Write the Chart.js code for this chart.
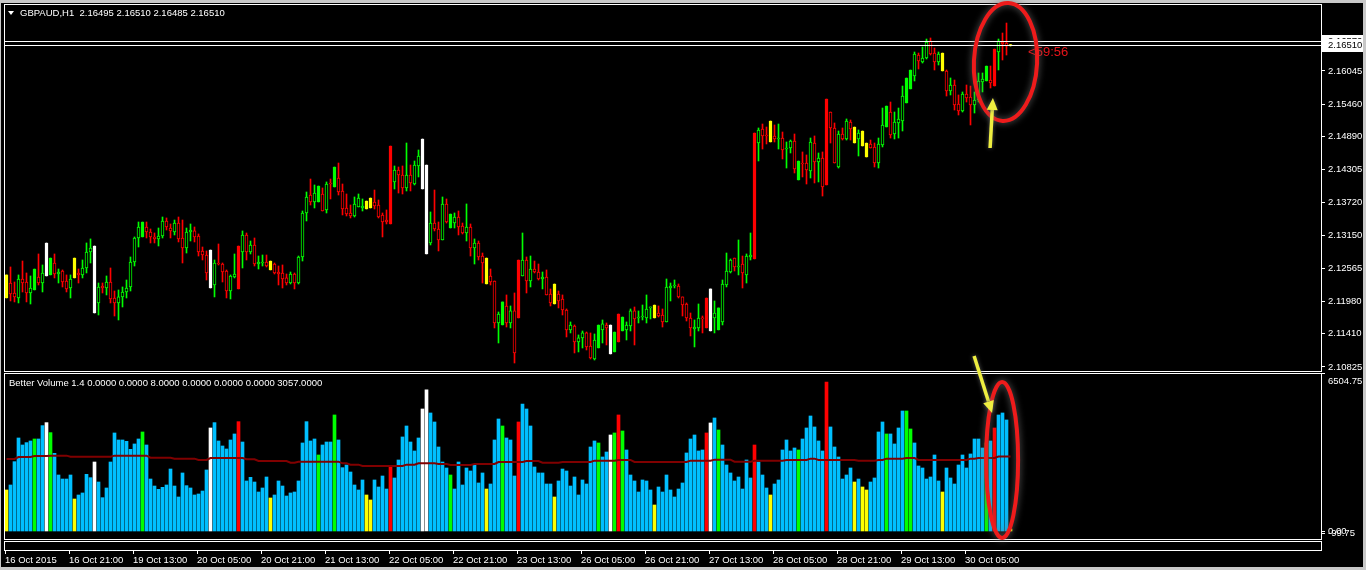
<!DOCTYPE html>
<html><head><meta charset="utf-8">
<script src="https://cdn.jsdelivr.net/npm/chart.js@4.4.1/dist/chart.umd.min.js"></script>
<style>
html,body{margin:0;padding:0;background:#c8c8c8;width:1366px;height:570px;overflow:hidden;}
#wrap{position:relative;width:1366px;height:570px;}
canvas{position:absolute;left:0;top:0;}
.t{position:absolute;color:#fff;font-family:"Liberation Sans",Arial,sans-serif;font-size:9.5px;white-space:pre;line-height:11px;}
</style></head>
<body><div id="wrap"><canvas id="c" width="1366" height="570"></canvas>
<div id="tri" style="position:absolute;left:8px;top:11px;width:0;height:0;border-left:3.5px solid transparent;border-right:3.5px solid transparent;border-top:4px solid #fff"></div>
<div class="t" style="left:20px;top:7px">GBPAUD,H1  2.16495 2.16510 2.16485 2.16510</div>
<div class="t" style="left:9px;top:377px">Better Volume 1.4 0.0000 0.0000 8.0000 0.0000 0.0000 0.0000 3057.0000</div>
</div>
<script>
// ---------------- DATA ----------------
const opens = [
2.12042,2.12306,2.12130,2.12042,2.12377,2.12324,2.12130,2.12183,2.12412,2.12306,
2.12430,2.12448,2.12659,2.12465,2.12518,2.12342,2.12218,2.12395,2.12483,2.12448,
2.12571,2.12853,2.12959,2.11954,2.12253,2.12218,2.12324,2.12042,2.11954,2.12060,
2.12148,2.12236,2.12677,2.13100,2.13118,2.13294,2.13206,2.13118,2.13083,2.13135,
2.13400,2.13276,2.13206,2.13364,2.13100,2.12924,2.13206,2.13224,2.13135,2.12871,
2.12800,2.12888,2.12271,2.12659,2.12641,2.12518,2.12165,2.12412,2.12959,2.12853,
2.13153,2.12853,2.12977,2.12641,2.12659,2.12677,2.12694,2.12641,2.12500,2.12483,
2.12395,2.12306,2.12465,2.12306,2.12765,2.13541,2.13858,2.13735,2.13735,2.13876,
2.13594,2.14070,2.13999,2.14158,2.13929,2.13629,2.13541,2.13488,2.13647,2.13629,
2.13611,2.13629,2.13735,2.13682,2.13506,2.13417,2.13347,2.14088,2.14299,2.14211,
2.13982,2.14211,2.14052,2.14370,2.14846,2.14387,2.13012,2.13364,2.13259,2.13065,
2.13700,2.13276,2.13364,2.13470,2.13311,2.13188,2.13294,2.12924,2.13012,2.12782,
2.12747,2.12430,2.12342,2.11601,2.11566,2.11901,2.11601,2.11813,2.11689,2.12430,
2.12712,2.12342,2.12553,2.12500,2.12377,2.12412,2.12112,2.11936,2.12112,2.12024,
2.11830,2.11478,2.11548,2.11266,2.11337,2.11425,2.11195,2.10966,2.11160,2.11478,
2.11566,2.11566,2.11090,2.11760,2.11460,2.11478,2.11548,2.11813,2.11689,2.11707,
2.11689,2.11866,2.11689,2.11777,2.11742,2.11619,2.12218,2.12253,2.12253,2.12060,
2.11936,2.11689,2.11495,2.11513,2.11689,2.12042,2.11460,2.11689,2.11478,2.11619,
2.12271,2.12500,2.12747,2.12589,2.12641,2.12448,2.12765,2.12730,2.14775,2.15022,
2.14916,2.14793,2.14899,2.14846,2.14863,2.14669,2.14687,2.14811,2.14123,2.14422,
2.14422,2.14281,2.14775,2.14440,2.14511,2.14035,2.15322,2.15040,2.14352,2.14934,
2.14846,2.15146,2.15057,2.14846,2.14987,2.14775,2.14758,2.14705,2.14422,2.14740,
2.15057,2.15322,2.14934,2.15128,2.15163,2.15481,2.15728,2.15957,2.16327,2.16204,
2.16274,2.16574,2.16362,2.16204,2.16362,2.16045,2.15692,2.15798,2.15463,2.15340,
2.15639,2.15586,2.15446,2.15534,2.15851,2.15869,2.15886,2.15780,2.16380,2.16556,
2.16539,2.16495];
const highs = [
2.12448,2.12589,2.12324,2.12448,2.12694,2.12483,2.12430,2.12553,2.12818,2.12624,
2.13012,2.12747,2.12818,2.12553,2.12536,2.12448,2.12448,2.12747,2.12553,2.12712,
2.13012,2.13083,2.12959,2.12306,2.12306,2.12430,2.12571,2.12165,2.12183,2.12236,
2.12359,2.12765,2.13118,2.13382,2.13382,2.13382,2.13259,2.13188,2.13276,2.13470,
2.13453,2.13347,2.13417,2.13470,2.13417,2.13276,2.13347,2.13294,2.13171,2.12941,
2.12871,2.12888,2.12712,2.12994,2.12659,2.12536,2.12448,2.12818,2.12959,2.13224,
2.13188,2.13047,2.13100,2.12782,2.12800,2.12800,2.12694,2.12659,2.12606,2.12624,
2.12465,2.12500,2.12483,2.12782,2.13576,2.13911,2.14140,2.14035,2.14017,2.13982,
2.14088,2.14140,2.14352,2.14422,2.14052,2.13876,2.13682,2.13823,2.13876,2.13788,
2.13752,2.13805,2.13946,2.13770,2.13541,2.13594,2.14722,2.14370,2.14352,2.14370,
2.14775,2.14387,2.14458,2.14652,2.14846,2.14387,2.13559,2.13946,2.13382,2.13823,
2.13788,2.13523,2.13541,2.13576,2.13364,2.13700,2.13347,2.13083,2.13047,2.12835,
2.12747,2.12553,2.12342,2.11795,2.11972,2.12095,2.11901,2.12130,2.12712,2.13188,
2.12765,2.12782,2.12694,2.12641,2.12500,2.12536,2.12201,2.12289,2.12165,2.12095,
2.11848,2.11619,2.11566,2.11390,2.11460,2.11442,2.11425,2.11407,2.11566,2.11654,
2.11601,2.11566,2.11442,2.11760,2.11707,2.11619,2.11848,2.11883,2.11813,2.11918,
2.12095,2.11883,2.11918,2.11901,2.11848,2.12377,2.12306,2.12359,2.12289,2.12060,
2.11954,2.11777,2.11654,2.11936,2.11724,2.12042,2.12201,2.11989,2.11866,2.12359,
2.12835,2.12730,2.12747,2.13065,2.12782,2.12818,2.13188,2.14952,2.15040,2.15110,
2.15057,2.15163,2.15093,2.15110,2.14969,2.14793,2.14828,2.14934,2.14458,2.14617,
2.14564,2.14863,2.14899,2.14599,2.14617,2.15551,2.15322,2.15128,2.14987,2.15040,
2.15199,2.15181,2.15057,2.15005,2.14987,2.14775,2.14828,2.14775,2.14863,2.15392,
2.15428,2.15498,2.15322,2.15392,2.15780,2.15922,2.16063,2.16380,2.16362,2.16468,
2.16609,2.16627,2.16450,2.16380,2.16362,2.16063,2.15922,2.15886,2.15622,2.15675,
2.15798,2.15780,2.15675,2.16010,2.16010,2.16133,2.16133,2.16433,2.16609,2.16715,
2.16891,2.16510];
const lows = [
2.12042,2.11989,2.11972,2.11954,2.12148,2.11972,2.11936,2.12183,2.12271,2.12148,
2.12430,2.12448,2.12395,2.12306,2.12236,2.12148,2.12042,2.12395,2.12306,2.12395,
2.12483,2.12659,2.11777,2.11742,2.12130,2.12095,2.11954,2.11724,2.11654,2.11883,
2.12042,2.12165,2.12606,2.12941,2.13118,2.13100,2.13012,2.13012,2.12959,2.13100,
2.13241,2.13100,2.13153,2.13030,2.12659,2.12835,2.13047,2.13030,2.12782,2.12712,
2.12359,2.12218,2.12060,2.12624,2.12324,2.12042,2.12024,2.12395,2.12201,2.12571,
2.12712,2.12818,2.12606,2.12553,2.12606,2.12589,2.12536,2.12465,2.12271,2.12218,
2.12271,2.12289,2.12201,2.12289,2.12694,2.13400,2.13682,2.13629,2.13735,2.13576,
2.13541,2.13788,2.13999,2.13858,2.13506,2.13488,2.13453,2.13470,2.13647,2.13576,
2.13611,2.13629,2.13611,2.13453,2.13118,2.13347,2.13347,2.13964,2.13893,2.13876,
2.13929,2.13929,2.14035,2.14176,2.13964,2.12818,2.12977,2.13224,2.12871,2.13065,
2.13364,2.13276,2.13276,2.13153,2.13171,2.13047,2.12782,2.12641,2.12712,2.12306,
2.12289,2.12271,2.11513,2.11248,2.11566,2.11530,2.11513,2.10895,2.11689,2.12430,
2.12130,2.12236,2.12483,2.12359,2.12201,2.12095,2.11901,2.11936,2.11866,2.11742,
2.11354,2.11425,2.11072,2.11090,2.11160,2.11125,2.10966,2.10948,2.11160,2.11248,
2.11213,2.11054,2.11090,2.11266,2.11460,2.11301,2.11460,2.11213,2.11601,2.11654,
2.11601,2.11672,2.11689,2.11707,2.11530,2.11619,2.11989,2.12218,2.12042,2.11724,
2.11636,2.11372,2.11178,2.11460,2.11425,2.11513,2.11460,2.11425,2.11478,2.11566,
2.12236,2.12483,2.12518,2.12448,2.12218,2.12306,2.12712,2.12730,2.14458,2.14669,
2.14758,2.14793,2.14793,2.14669,2.14493,2.14334,2.14599,2.14246,2.14123,2.14176,
2.14052,2.14158,2.14070,2.14088,2.13840,2.14035,2.14775,2.14422,2.14334,2.14828,
2.14828,2.14828,2.14775,2.14546,2.14722,2.14528,2.14687,2.14352,2.14334,2.14705,
2.15057,2.14863,2.14846,2.14863,2.14987,2.15481,2.15728,2.15869,2.16080,2.16186,
2.16257,2.16327,2.16063,2.16151,2.16045,2.15604,2.15622,2.15357,2.15269,2.15322,
2.15498,2.15093,2.15304,2.15498,2.15675,2.15869,2.15745,2.15780,2.16063,2.16239,
2.16327,2.16485];
const closes = [
2.12448,2.12112,2.12060,2.12377,2.12306,2.12130,2.12218,2.12553,2.12306,2.12483,
2.13012,2.12747,2.12465,2.12500,2.12324,2.12201,2.12377,2.12747,2.12448,2.12571,
2.12853,2.12924,2.11777,2.12236,2.12218,2.12324,2.12024,2.11954,2.12060,2.12148,
2.12218,2.12677,2.13100,2.13294,2.13382,2.13206,2.13118,2.13083,2.13135,2.13400,
2.13294,2.13224,2.13364,2.13083,2.12924,2.13206,2.13241,2.13118,2.12853,2.12800,
2.12483,2.12218,2.12659,2.12641,2.12500,2.12165,2.12430,2.12465,2.12201,2.13153,
2.12853,2.12977,2.12641,2.12677,2.12677,2.12606,2.12536,2.12483,2.12465,2.12377,
2.12306,2.12465,2.12306,2.12765,2.13541,2.13823,2.13735,2.13893,2.14017,2.13576,
2.14052,2.14052,2.14352,2.13911,2.13611,2.13523,2.13488,2.13700,2.13805,2.13664,
2.13752,2.13805,2.13664,2.13470,2.13382,2.13382,2.14722,2.14299,2.14211,2.13982,
2.14211,2.14070,2.14387,2.14546,2.13964,2.12818,2.13364,2.13259,2.13065,2.13700,
2.13382,2.13523,2.13470,2.13294,2.13188,2.13294,2.12924,2.13012,2.12765,2.12659,
2.12289,2.12324,2.11601,2.11760,2.11972,2.11601,2.11813,2.11072,2.12712,2.12712,
2.12342,2.12553,2.12500,2.12377,2.12412,2.12095,2.11954,2.12289,2.11989,2.11830,
2.11478,2.11566,2.11266,2.11337,2.11425,2.11178,2.10984,2.11301,2.11566,2.11584,
2.11513,2.11054,2.11442,2.11266,2.11707,2.11566,2.11813,2.11672,2.11707,2.11724,
2.11848,2.11883,2.11918,2.11724,2.11619,2.12236,2.12253,2.12271,2.12060,2.11918,
2.11689,2.11513,2.11530,2.11689,2.11672,2.11513,2.12201,2.11777,2.11866,2.12289,
2.12518,2.12712,2.12589,2.12606,2.12483,2.12782,2.12800,2.14952,2.15005,2.14899,
2.14899,2.15163,2.14846,2.14863,2.14652,2.14687,2.14811,2.14317,2.14458,2.14405,
2.14299,2.14793,2.14440,2.14511,2.13999,2.15551,2.15040,2.14422,2.14934,2.14846,
2.15163,2.15022,2.14775,2.14952,2.14722,2.14528,2.14687,2.14422,2.14758,2.15093,
2.15428,2.14916,2.15146,2.15199,2.15604,2.15922,2.16063,2.16345,2.16221,2.16274,
2.16556,2.16345,2.16204,2.16345,2.16045,2.15692,2.15798,2.15446,2.15340,2.15639,
2.15569,2.15446,2.15534,2.15869,2.15904,2.16133,2.15833,2.16433,2.16574,2.16521,
2.16486,2.16510];
const volumes = [
1686,1891,2850,3823,3535,3632,3700,3782,3782,4331,
4454,4043,3193,2302,2137,2137,2302,1315,1480,1563,
2330,2192,2836,2014,1370,1768,2836,4029,3741,3741,
3686,3357,3577,3782,4070,3535,2137,1849,1713,1796,
1891,2548,1849,1398,2385,1864,1768,1480,1521,1644,
2508,4234,4454,3700,3494,3371,3741,3988,4494,3658,
2056,2207,2014,1603,1768,2220,1357,1480,2056,1849,
1438,1563,1603,2056,3618,4494,3700,3782,3124,3535,
3658,3658,4769,3741,2603,2713,2425,1891,1686,2097,
1480,1275,2097,1809,2261,1726,2631,2179,2919,3865,
4316,3658,3289,3823,5015,5797,4851,4481,3453,2836,
2590,2302,1726,2836,1891,2590,2467,2713,1974,2385,
1726,1932,3741,4604,4316,3823,3741,2261,4481,5221,
5015,4316,2631,2385,2385,1932,1932,1398,2056,2548,
2467,1849,2220,1480,2097,1932,3453,3700,3618,3042,
3247,3946,4029,4769,4111,3330,2302,2056,1603,2097,
2056,1686,1069,1809,1603,2302,1686,1398,1726,1974,
3207,3782,3946,3289,3330,4029,4440,4645,4152,3535,
2713,2385,2056,2220,1726,2919,2179,3535,2836,2302,
1768,1480,1932,2097,3330,3741,3289,3412,3330,3782,
4234,4727,4276,3700,3289,6124,4276,3453,3042,2137,
2302,2590,2014,2137,1809,1686,2014,2179,4070,4481,
3988,3988,3577,4234,4933,4933,4193,3618,2672,2590,
2137,2220,3124,2056,1603,2590,2179,1932,2713,3124,
2590,3166,3782,3782,3412,3618,3700,4234,4769,4851,
4564,8];
const volumeMA = [
2959,2959,2959,3042,3042,3042,3042,3083,3083,3083,
3083,3097,3097,3097,3097,3097,3056,3056,3056,3056,
3056,3056,3056,3056,3056,3056,3056,3097,3097,3097,
3097,3097,3097,3097,3097,3097,3014,3014,3014,3014,
3014,3014,2974,2974,2974,2974,2974,2974,2919,2919,
2919,3001,3001,3001,3001,3001,3001,3001,3001,3001,
2946,2946,2946,2878,2878,2878,2878,2878,2878,2878,
2878,2809,2809,2850,2850,2850,2850,2850,2850,2850,
2850,2850,2850,2850,2781,2781,2727,2727,2727,2672,
2672,2672,2672,2672,2672,2672,2672,2672,2672,2672,
2727,2727,2727,2781,2781,2781,2781,2781,2754,2754,
2754,2713,2713,2713,2713,2713,2713,2754,2754,2754,
2754,2754,2754,2836,2836,2836,2836,2836,2836,2836,
2878,2878,2878,2878,2809,2809,2809,2809,2809,2836,
2836,2836,2836,2836,2836,2836,2836,2891,2891,2891,
2891,2891,2891,2919,2919,2919,2919,2836,2836,2836,
2836,2836,2836,2836,2836,2836,2836,2836,2836,2836,
2836,2891,2891,2891,2891,2891,2891,2933,2933,2933,
2933,2933,2850,2850,2850,2850,2850,2891,2891,2891,
2891,2891,2891,2891,2891,2919,2919,2919,2919,2919,
2919,2974,2974,2919,2919,2919,2919,2919,2919,2919,
2919,2919,2919,2891,2891,2891,2891,2891,2919,2919,
2974,2974,2974,2974,2974,3001,3001,3001,2919,2919,
2919,2919,2919,2919,2919,2919,2919,2919,2919,2919,
2919,2974,2974,3001,3001,3001,3001,3001,3057,3057,
3057,3057];
// Better Volume colour classes (bar indices)
const yellowBars = [0,17,66,90,91,120,137,162,191,212,214,215,234,251];
const greenBars  = [7,11,34,78,82,111,124,148,152,154,178,198,220,225,226,245];
const whiteBars  = [10,22,51,104,105,151,176];
const redBars    = [58,96,128,153,175,187,205,247];

const xTickIdx = [0,16,32,48,64,80,96,112,128,144,160,176,192,208,224,240];
const xTickLabels = ["16 Oct 2015","16 Oct 21:00","19 Oct 13:00","20 Oct 05:00","20 Oct 21:00","21 Oct 13:00","22 Oct 05:00","22 Oct 21:00","23 Oct 13:00","26 Oct 05:00","26 Oct 21:00","27 Oct 13:00","28 Oct 05:00","28 Oct 21:00","29 Oct 13:00","30 Oct 05:00"];
const priceTicks = [2.16045,2.15460,2.14890,2.14305,2.13720,2.13150,2.12565,2.11980,2.11410,2.10825];
const volTicks = [6504.75, 0.00, -99.75];
const bidPrice = 2.16510, askPrice = 2.16570;
const timerText = "<59:56";

// ---------------- BUILD ----------------
const FONT = "Liberation Sans";
const PAINT = {y:'#ffff00', g:'#00ff00', w:'#ffffff', r:'#ff0000'};
const N = opens.length;
const cls = new Array(N).fill('n');
yellowBars.forEach(i=>cls[i]='y'); greenBars.forEach(i=>cls[i]='g');
whiteBars.forEach(i=>cls[i]='w'); redBars.forEach(i=>cls[i]='r');

const bodyData=[], wickData=[], bodyBg=[], bodyBd=[], wickCol=[], volData=[], volCol=[], maData=[];
for (let i=0;i<N;i++){
  const o=opens[i], c=closes[i];
  bodyData.push({x:i, y:[Math.min(o,c), Math.max(o,c)]});
  wickData.push({x:i, y:[lows[i], highs[i]]});
  if (cls[i] !== 'n'){ const col=PAINT[cls[i]]; bodyBg.push(col); bodyBd.push(col); wickCol.push(col); volCol.push(col); }
  else { const col = c>=o ? '#00ff00' : '#ff0000'; bodyBg.push('#000000'); bodyBd.push(col); wickCol.push(col); volCol.push('#00bfff'); }
  volData.push({x:i, y:volumes[i]});
  maData.push({x:i, y:volumeMA[i]});
}

const annotations = {
  ellipses: [
    {x:249.75, y:2.16204, rx:7.9, ry:0.0104, axis:'yP', rot:0.05},
    {x:248.9,  y:2918,    rx:4.0, ry:3206,   axis:'yV', rot:0}
  ],
  arrows: [
    {x1:245.9, y1:2.14687, a1:'yP', x2:246.6, y2:2.15569, a2:'yP'},
    {x1:241.9, y1:2.11019, a1:'yP', x2:246.4, y2:4850,    a2:'yV'}
  ],
  timer: {x:255.4, y:2.16371}
};

const mt4 = {
  id:'mt4',
  beforeDraw(chart){
    const ctx=chart.ctx; ctx.save();
    ctx.fillStyle='#c8c8c8'; ctx.fillRect(0,0,chart.width,chart.height);
    ctx.fillStyle='#000'; ctx.fillRect(1,3,chart.width-4,chart.height-6);
    ctx.restore();
  },
  afterDatasetsDraw(chart){
    const ctx=chart.ctx, a=chart.chartArea, yP=chart.scales.yP;
    ctx.save(); ctx.strokeStyle='#fff'; ctx.lineWidth=1;
    [askPrice,bidPrice].forEach(p=>{const y=Math.round(yP.getPixelForValue(p))+0.5;ctx.beginPath();ctx.moveTo(a.left,y);ctx.lineTo(a.right,y);ctx.stroke();});
    ctx.restore();
  },
  afterDraw(chart){
    const ctx=chart.ctx, a=chart.chartArea, sx=chart.scales.x, yP=chart.scales.yP, yV=chart.scales.yV;
    ctx.save();
    ctx.strokeStyle='#fff'; ctx.lineWidth=1;
    const L=a.left-0.5, W=a.right-a.left+1;
    ctx.strokeRect(L, yP.top-0.5, W, yP.bottom-yP.top+1);
    ctx.strokeRect(L, yV.top+2.5, W, a.bottom-yV.top-2);
    ctx.strokeRect(L, a.bottom+2.5, W, 9);
    // x tick marks
    xTickIdx.forEach(i=>{const x=Math.round(sx.getPixelForValue(i-0.375))+0.5;ctx.beginPath();ctx.moveTo(x,a.bottom+11);ctx.lineTo(x,a.bottom+15);ctx.stroke();});
    // volume axis
    ctx.font='9.5px "'+FONT+'"'; ctx.textBaseline='middle'; ctx.textAlign='left';
    volTicks.forEach(v=>{let y=yV.getPixelForValue(v); ctx.beginPath();ctx.moveTo(a.right,Math.round(y)+0.5);ctx.lineTo(a.right+4,Math.round(y)+0.5);ctx.stroke();
      y=Math.max(y,yV.top+10); ctx.fillStyle='#fff'; ctx.fillText(v.toFixed(2),a.right+7,y);});
    // ask / bid boxes
    [[askPrice],[bidPrice]].forEach(([p])=>{const y=Math.round(yP.getPixelForValue(p));ctx.fillStyle='#fff';ctx.fillRect(a.right+1,y-6,41,13);ctx.fillStyle='#000';ctx.fillText(p.toFixed(5),a.right+7,y+0.5);});
    // timer
    ctx.font='13px "'+FONT+'"'; ctx.fillStyle='#e5141a';
    ctx.fillText(timerText, sx.getPixelForValue(annotations.timer.x), yP.getPixelForValue(annotations.timer.y));
    // ellipses
    annotations.ellipses.forEach(e=>{const s=chart.scales[e.axis];const cx=sx.getPixelForValue(e.x),cy=s.getPixelForValue(e.y);
      const rx=sx.getPixelForValue(e.x+e.rx)-cx, ry=Math.abs(s.getPixelForValue(e.y+e.ry)-cy);
      ctx.save();ctx.strokeStyle='#ee1b1b';ctx.lineWidth=4;ctx.shadowColor='rgba(110,110,110,0.9)';ctx.shadowBlur=7;
      ctx.beginPath();ctx.ellipse(cx,cy,rx,ry,e.rot,0,Math.PI*2);ctx.stroke();ctx.restore();});
    // arrows
    annotations.arrows.forEach(r=>{const x1=sx.getPixelForValue(r.x1),y1=chart.scales[r.a1].getPixelForValue(r.y1),x2=sx.getPixelForValue(r.x2),y2=chart.scales[r.a2].getPixelForValue(r.y2);
      const ang=Math.atan2(y2-y1,x2-x1),hl=12,hw=5.5,bx=x2-hl*Math.cos(ang),by=y2-hl*Math.sin(ang);
      ctx.save();ctx.strokeStyle='#eeee40';ctx.fillStyle='#eeee40';ctx.lineWidth=3.5;ctx.shadowColor='rgba(110,110,110,0.8)';ctx.shadowBlur=4;
      ctx.beginPath();ctx.moveTo(x1,y1);ctx.lineTo(bx,by);ctx.stroke();
      ctx.beginPath();ctx.moveTo(x2,y2);ctx.lineTo(bx+hw*Math.sin(ang),by-hw*Math.cos(ang));ctx.lineTo(bx-hw*Math.sin(ang),by+hw*Math.cos(ang));ctx.closePath();ctx.fill();ctx.restore();});
    ctx.restore();
  }
};

const noPad = s => { s.paddingTop=0; s.paddingBottom=0; s.paddingLeft=0; s.paddingRight=0; };

new Chart(document.getElementById('c'), {
  data: { datasets: [
    {type:'bar', yAxisID:'yP', data:wickData, backgroundColor:wickCol, borderWidth:0, barThickness:1, grouped:false, order:3, minBarLength:1},
    {type:'bar', yAxisID:'yP', data:bodyData, backgroundColor:bodyBg, borderColor:bodyBd, borderWidth:1, borderSkipped:false, barThickness:3, grouped:false, order:2, minBarLength:1},
    {type:'bar', yAxisID:'yV', data:volData, backgroundColor:volCol, borderWidth:0, barThickness:3, grouped:false, order:1, minBarLength:2},
    {type:'line', yAxisID:'yV', data:maData, borderColor:'#800000', borderWidth:2, pointRadius:0, tension:0, order:0}
  ]},
  options: {
    responsive:false, animation:false, events:[],
    layout:{padding:{left:5, top:5, right:0, bottom:0}},
    plugins:{legend:{display:false}, tooltip:{enabled:false}},
    scales:{
      x:{type:'linear', position:'bottom', offset:false, min:-0.375, max:328.625, grid:{display:false, offset:false}, border:{display:false},
         afterBuildTicks:s=>{ s.ticks = xTickIdx.map(v=>({value:v-0.375})); },
         afterFit:s=>{ s.height=31; noPad(s); },
         ticks:{autoSkip:false, maxRotation:0, minRotation:0, align:'start', padding:8, color:'#fff', font:{family:FONT, size:9.5},
                callback:(v,i)=>xTickLabels[i]}},
      yP:{type:'linear', position:'right', stack:'pane', stackWeight:366, min:2.10754, max:2.17209,
          afterBuildTicks:s=>{ s.ticks = priceTicks.map(v=>({value:v})); },
          afterFit:s=>{ s.width=45; noPad(s); },
          grid:{drawOnChartArea:false, drawTicks:true, tickLength:4, color:'#fff'}, border:{display:false},
          ticks:{autoSkip:false, padding:3, color:'#fff', font:{family:FONT, size:9.5}, callback:v=>Number(v).toFixed(5)}},
      yV:{type:'linear', position:'right', stack:'pane', stackWeight:168, min:-328.8, max:6576,
          afterFit:s=>{ s.width=45; noPad(s); },
          grid:{display:false}, border:{display:false}, ticks:{display:false}}
    }
  },
  plugins:[mt4]
});
</script>
</body></html>
